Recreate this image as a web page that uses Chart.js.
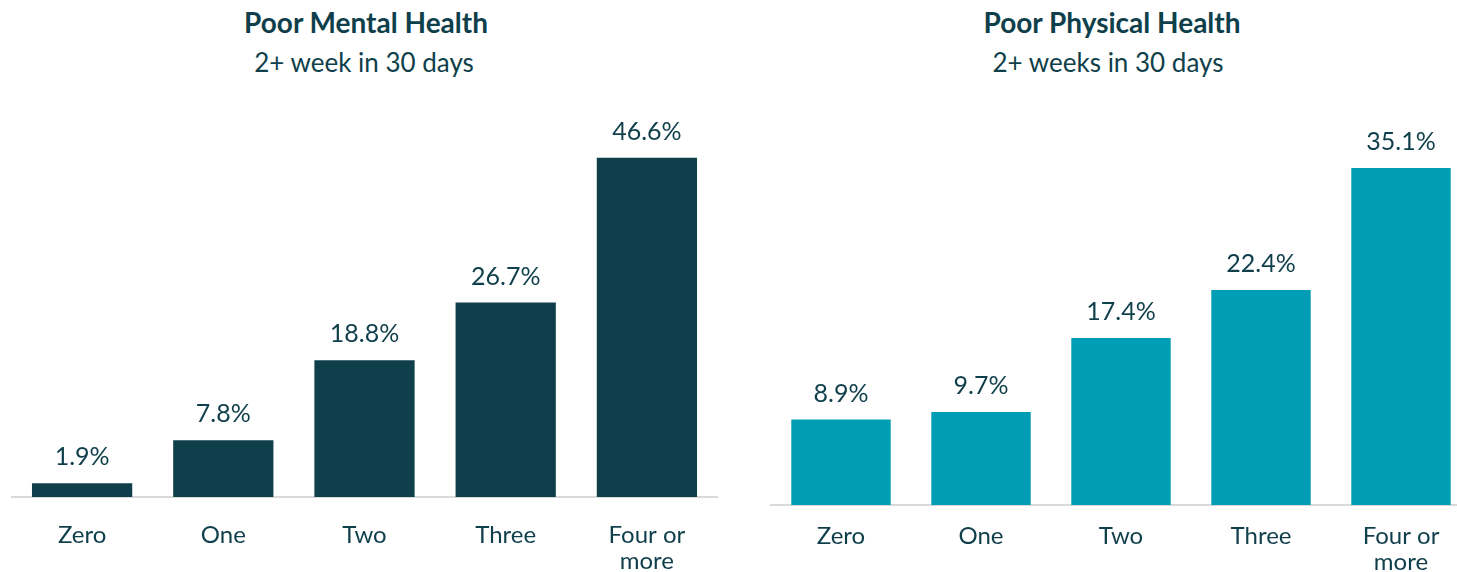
<!DOCTYPE html>
<html>
<head>
<meta charset="utf-8">
<script src="https://cdn.jsdelivr.net/npm/chart.js@4/dist/chart.umd.min.js"></script>
<style>
  html, body { margin:0; padding:0; background:#fff; width:1457px; height:572px; overflow:hidden; position:relative; }
  .title { position:absolute; text-align:center; color:#0f3f4b; font-family:Lato, sans-serif; white-space:nowrap; }
  .t1 { font-weight:700; font-size:28px; top:5px; }
  .t2 { font-weight:400; font-size:26px; top:46px; }
  .wrap { position:absolute; top:0; height:572px; }
  canvas { display:block; }
</style>
</head>
<body>
<div class="title t1" style="left:166px;width:400px;">Poor Mental Health</div>
<div class="title t2" style="left:164px;width:400px;">2+ week in 30 days</div>
<div class="title t1" style="left:912px;width:400px;">Poor Physical Health</div>
<div class="title t2" style="left:908px;width:400px;">2+ weeks in 30 days</div>

<div class="wrap" style="left:0;width:730px;"><canvas id="c1" width="730" height="572"></canvas></div>
<div class="wrap" style="left:760px;width:711px;"><canvas id="c2" width="711" height="572"></canvas></div>

<script>
const categories = ['Zero', 'One', 'Two', 'Three', ['Four or', 'more']];
const mentalValues = [1.9, 7.8, 18.8, 26.7, 46.6];
const physicalValues = [8.9, 9.7, 17.4, 22.4, 35.1];

const TEXT = '#0f3f4b';
const FONT = 'Lato, sans-serif';

const valueLabels = {
  id: 'valueLabels',
  afterDatasetsDraw(chart) {
    const ctx = chart.ctx;
    const meta = chart.getDatasetMeta(0);
    const data = chart.data.datasets[0].data;
    ctx.save();
    ctx.fillStyle = TEXT;
    ctx.font = '400 25px ' + FONT;
    ctx.textAlign = 'center';
    ctx.textBaseline = 'alphabetic';
    meta.data.forEach((bar, i) => {
      ctx.fillText(data[i].toFixed(1) + '%', bar.x, bar.y - 18);
    });
    ctx.restore();
  }
};

function makeChart(id, values, color, yMax, pad, axisH, tickPad) {
  return new Chart(document.getElementById(id), {
    type: 'bar',
    data: {
      labels: categories,
      datasets: [{ data: values, backgroundColor: color, borderWidth: 0, barPercentage: 0.71, categoryPercentage: 1.0 }]
    },
    options: {
      responsive: false,
      animation: false,
      layout: { padding: pad },
      plugins: { legend: { display: false }, tooltip: { enabled: false } },
      scales: {
        x: {
          grid: { display: false, drawTicks: false },
          border: { display: true, color: '#d9d9d9', width: 2 },
          ticks: { color: TEXT, font: { family: FONT, size: 24, lineHeight: 1.08 }, padding: tickPad, maxRotation: 0, autoSkip: false },
          afterFit: s => { s.height = axisH; }
        },
        y: { display: false, min: 0, max: yMax }
      }
    },
    plugins: [valueLabels]
  });
}

makeChart('c1', mentalValues, '#0f3f4b', 50, { left: 11.5, right: 12.5, top: 133, bottom: 0 }, 75, 25);
makeChart('c2', physicalValues, '#009db5', 40, { left: 11, right: 0, top: 121, bottom: 0 }, 67, 18);
</script>
</body>
</html>
